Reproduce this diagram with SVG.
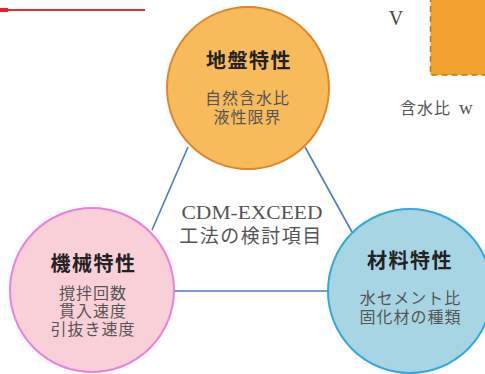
<svg xmlns="http://www.w3.org/2000/svg" width="485" height="374" viewBox="0 0 485 374">
<style>
.title{font-family:"Noto Sans CJK JP","Noto Sans",sans-serif;font-weight:bold;font-size:20px;fill:#222;text-anchor:middle;letter-spacing:1.5px}
.sub{font-family:"Noto Sans CJK JP","Noto Sans",sans-serif;font-size:16px;fill:#555;text-anchor:middle;letter-spacing:1px}
.center{font-family:"Liberation Serif","Noto Sans CJK JP",serif;font-size:19px;fill:#555;text-anchor:middle}
.conn{stroke:#4d7cc0;stroke-width:1.6;fill:none}
</style>
<rect width="485" height="374" fill="#ffffff"/>
<g id="background">
<rect x="0" y="8" width="8" height="4" fill="#e8202a"/>
<line x1="8" y1="10" x2="145" y2="10" stroke="#e03030" stroke-width="2"/>
<rect x="430.5" y="-2" width="60" height="77" fill="#f2a22e" stroke="#b87a1c" stroke-width="1.5" stroke-dasharray="6,4"/>
<text x="396" y="25" font-family="Liberation Serif,serif" font-size="20" fill="#444" text-anchor="middle">V</text>
<text x="400" y="114" font-family="Noto Sans CJK JP,sans-serif" font-size="16" fill="#555" letter-spacing="1">含水比<tspan dx="8" font-family="Liberation Serif,serif" font-size="19">w</tspan></text>
</g>
<g id="connectors">
<line class="conn" x1="188" y1="147" x2="152" y2="230"/>
<line class="conn" x1="305" y1="147" x2="352" y2="232"/>
<line class="conn" x1="174" y1="291" x2="328" y2="291"/>
</g>
<g id="node-jiban">
<circle cx="248" cy="88" r="81" fill="#f8bb5c" stroke="#e3862b" stroke-width="2"/>
<text class="title" x="249" y="67.5">地盤特性</text>
<text class="sub" x="247.5" y="104">自然含水比<tspan x="247.5" dy="19">液性限界</tspan></text>
</g>
<g id="node-kikai">
<circle cx="92" cy="290" r="82" fill="#f9cfd8" stroke="#ec80e0" stroke-width="2"/>
<text class="title" x="93.5" y="271">機械特性</text>
<text class="sub" x="93" y="299">撹拌回数<tspan x="93" dy="18">貫入速度</tspan><tspan x="93" dy="17.5">引抜き速度</tspan></text>
</g>
<g id="node-zairyo">
<circle cx="410" cy="291" r="82" fill="#a8d5e4" stroke="#2fa9de" stroke-width="2"/>
<text class="title" x="410" y="268">材料特性</text>
<text class="sub" x="410.5" y="304">水セメント比<tspan x="410.5" dy="19">固化材の種類</tspan></text>
</g>
<g id="label-center">
<text class="center" x="252" y="219" textLength="141" lengthAdjust="spacingAndGlyphs">CDM-EXCEED</text>
<text class="center" x="251" y="243" font-family="Noto Sans CJK JP,sans-serif" font-size="18" letter-spacing="1.5">工法の検討項目</text>
</g>
</svg>
